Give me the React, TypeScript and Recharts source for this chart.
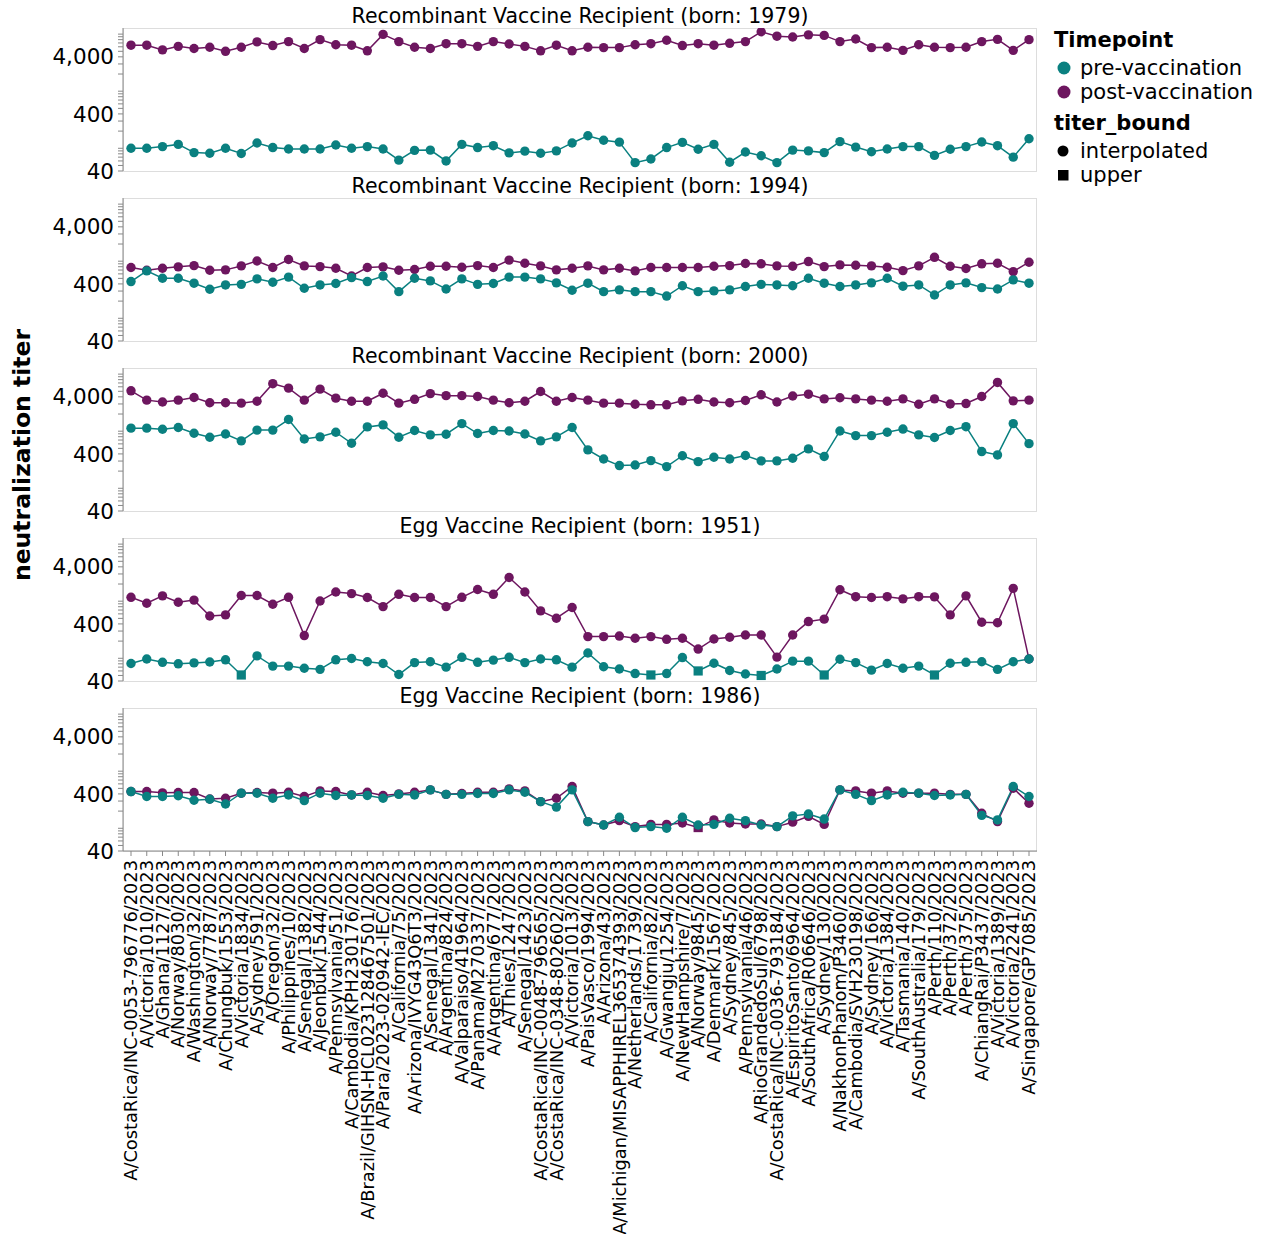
import React from 'react'
import { LineChart, Line, XAxis, YAxis } from 'recharts'

// ── Data ──────────────────────────────────────────────────────────────────────

const strains = [
  'A/CostaRica/INC-0053-796776/2023', 'A/Victoria/1010/2023', 'A/Ghana/1127/2023', 'A/Norway/8030/2023',
  'A/Washington/32/2023', 'A/Norway/7787/2023', 'A/Chungbuk/1553/2023', 'A/Victoria/1834/2023',
  'A/Sydney/591/2023', 'A/Oregon/32/2023', 'A/Philippines/10/2023', 'A/Senegal/1382/2023',
  'A/Jeonbuk/1544/2023', 'A/Pennsylvania/51/2023', 'A/Cambodia/KPH230176/2023',
  'A/Brazil/GIHSN-HCL023128467501/2023', 'A/Para/2023-020942-IEC/2023', 'A/California/75/2023',
  'A/Arizona/IVYG43Q6T3/2023', 'A/Senegal/1341/2023', 'A/Argentina/824/2023', 'A/Valparaiso/41964/2023',
  'A/Panama/M270337/2023', 'A/Argentina/677/2023', 'A/Thies/1247/2023', 'A/Senegal/1423/2023',
  'A/CostaRica/INC-0048-796565/2023', 'A/CostaRica/INC-0348-802602/2023', 'A/Victoria/1013/2023',
  'A/PaisVasco/1994/2023', 'A/Arizona/43/2023', 'A/Michigan/MISAPPHIREL365374393/2023',
  'A/Netherlands/1739/2023', 'A/California/82/2023', 'A/Gwangju/1254/2023', 'A/NewHampshire/7/2023',
  'A/Norway/9845/2023', 'A/Denmark/1567/2023', 'A/Sydney/845/2023', 'A/Pennsylvania/46/2023',
  'A/RioGrandedoSul/6798/2023', 'A/CostaRica/INC-0036-793184/2023', 'A/EspiritoSanto/6964/2023',
  'A/SouthAfrica/R06646/2023', 'A/Sydney/130/2023', 'A/NakhonPhanom/P3460/2023',
  'A/Cambodia/SVH230198/2023', 'A/Sydney/166/2023', 'A/Victoria/1384/2023', 'A/Tasmania/140/2023',
  'A/SouthAustralia/179/2023', 'A/Perth/110/2023', 'A/Perth/372/2023', 'A/Perth/375/2023',
  'A/ChiangRai/P3437/2023', 'A/Victoria/1389/2023', 'A/Victoria/2241/2023', 'A/Singapore/GP7085/2023',
]

const pre1979 = [100, 100, 107, 117, 84, 82, 100, 81, 124, 103, 97, 97, 97, 114, 100, 107, 97, 62, 92, 93, 60, 117, 103, 111, 83, 89, 82, 90, 124, 166, 138, 128, 56, 65, 103, 127, 96, 117, 57, 86, 74, 56, 93, 90, 84, 131, 105, 87, 97, 107, 107, 75, 96, 107, 129, 111, 70, 147]
const post1979 = [6400, 6400, 5300, 6100, 5600, 5900, 5000, 5900, 7300, 6300, 7400, 5600, 8000, 6500, 6400, 5100, 9900, 7400, 5900, 5600, 6800, 6800, 6100, 7400, 6700, 6100, 5100, 6400, 5100, 5900, 5800, 5800, 6500, 6800, 7800, 6300, 6800, 6400, 6900, 7400, 11000, 9200, 8900, 9700, 9500, 7400, 8200, 5800, 5900, 5200, 6500, 5900, 5800, 5900, 7400, 8100, 5200, 8000]

const pre1994 = [440, 676, 503, 503, 412, 322, 384, 393, 490, 428, 527, 336, 384, 406, 515, 440, 550, 293, 503, 452, 326, 490, 393, 406, 527, 527, 490, 418, 310, 412, 293, 315, 293, 293, 245, 372, 293, 302, 315, 360, 393, 384, 372, 503, 412, 360, 384, 418, 503, 365, 384, 256, 384, 418, 345, 326, 470, 412]
const post1994 = [775, 695, 753, 797, 838, 695, 705, 827, 1010, 775, 1070, 827, 805, 753, 550, 775, 797, 695, 715, 815, 815, 785, 838, 775, 1045, 920, 827, 705, 753, 827, 705, 753, 676, 775, 775, 775, 775, 815, 838, 910, 900, 827, 815, 986, 805, 861, 850, 827, 785, 685, 827, 1170, 815, 745, 900, 920, 658, 960]

const pre2000 = [1130, 1130, 1080, 1160, 920, 785, 895, 676, 1045, 1045, 1600, 730, 797, 960, 615, 1190, 1290, 785, 1030, 861, 885, 1360, 910, 1030, 1010, 895, 676, 797, 1160, 470, 326, 250, 256, 305, 240, 372, 293, 350, 326, 376, 302, 302, 336, 490, 360, 1010, 838, 838, 960, 1090, 861, 775, 1030, 1200, 440, 384, 1360, 605]
const post2000 = [5100, 3500, 3250, 3500, 3900, 3150, 3150, 3100, 3350, 6800, 5680, 3500, 5450, 3790, 3350, 3350, 4630, 3100, 3620, 4560, 4200, 4200, 4050, 3500, 3150, 3350, 4960, 3350, 3900, 3500, 3100, 3100, 2960, 2900, 2900, 3400, 3620, 3250, 3150, 3450, 4340, 3250, 4130, 4450, 3680, 3850, 3680, 3500, 3350, 3680, 2960, 3680, 3000, 3050, 4050, 7150, 3400, 3500]

const pre1951 = [81, 97, 85, 80, 83, 86, 94, 51, 110, 73, 73, 67, 64, 94, 99, 87, 81, 52, 84, 87, 70, 104, 85, 93, 104, 84, 97, 94, 70, 124, 71, 65, 54, 51, 54, 103, 60, 82, 61, 53, 50, 65, 89, 89, 51, 96, 84, 62, 81, 67, 73, 51, 82, 85, 87, 64, 87, 97]
const post1951 = [1170, 920, 1240, 960, 1045, 550, 575, 1260, 1260, 885, 1170, 250, 1010, 1450, 1360, 1160, 805, 1320, 1160, 1160, 805, 1170, 1600, 1320, 2600, 1450, 676, 503, 775, 240, 240, 245, 224, 240, 215, 224, 145, 218, 234, 256, 256, 105, 256, 440, 485, 1590, 1200, 1160, 1200, 1100, 1200, 1190, 575, 1240, 428, 420, 1680, 97]

const pre1986 = [440, 360, 360, 372, 310, 322, 266, 412, 412, 336, 384, 305, 412, 376, 384, 376, 336, 393, 384, 470, 393, 393, 406, 406, 470, 428, 293, 235, 470, 131, 114, 156, 103, 107, 100, 156, 114, 117, 150, 136, 114, 107, 165, 178, 145, 470, 393, 305, 384, 428, 412, 376, 384, 393, 168, 140, 540, 360]
const post1986 = [440, 440, 418, 424, 424, 326, 336, 412, 424, 412, 428, 360, 452, 440, 384, 428, 376, 400, 428, 470, 393, 406, 428, 428, 490, 452, 293, 336, 540, 131, 114, 136, 107, 117, 117, 124, 103, 140, 124, 119, 119, 107, 128, 162, 117, 470, 452, 412, 452, 412, 412, 412, 393, 393, 183, 131, 503, 275]

// strains whose titer is an upper bound (drawn as squares)
const upperPre1951 = ['A/Victoria/1834/2023', 'A/California/82/2023', 'A/Norway/9845/2023', 'A/RioGrandedoSul/6798/2023', 'A/Sydney/130/2023', 'A/Perth/110/2023']
const upperPost1986 = ['A/Norway/9845/2023']

const yTicks = [40, 50, 60, 70, 80, 90, 100, 200, 300, 400, 500, 600, 700, 800, 900, 1000, 2000, 3000, 4000, 5000, 6000, 7000, 8000, 9000, 10000]

const PRE = '#0a8080'
const POST = '#6d165f'
const FONT = '"DejaVu Sans", Verdana, sans-serif'

// ── Layout ────────────────────────────────────────────────────────────────────

const PLOT_LEFT = 123
const PLOT_W = 914
const PLOT_TOP = 28
const PLOT_H = 143
const STEP = 170
const M_TOP = 12
const M_BOT = 16

const panels = [
  { title: 'Recombinant Vaccine Recipient (born: 1979)', pre: pre1979, post: post1979, upPre: [] as string[], upPost: [] as string[] },
  { title: 'Recombinant Vaccine Recipient (born: 1994)', pre: pre1994, post: post1994, upPre: [], upPost: [] },
  { title: 'Recombinant Vaccine Recipient (born: 2000)', pre: pre2000, post: post2000, upPre: [], upPost: [] },
  { title: 'Egg Vaccine Recipient (born: 1951)', pre: pre1951, post: post1951, upPre: upperPre1951, upPost: [] },
  { title: 'Egg Vaccine Recipient (born: 1986)', pre: pre1986, post: post1986, upPre: [], upPost: upperPost1986 },
]

const fmtY = (v: number) => (v === 40 ? '40' : v === 400 ? '400' : v === 4000 ? '4,000' : '')

function makeDot(color: string, upper: string[]) {
  return (props: any) => {
    const { cx, cy, index, payload } = props
    if (cx == null || cy == null) return <g key={`d-${index}`} />
    if (upper.includes(payload.strain)) {
      return <rect key={`d-${index}`} x={cx - 4.6} y={cy - 4.6} width={9.2} height={9.2} fill={color} />
    }
    return <circle key={`d-${index}`} cx={cx} cy={cy} r={4.7} fill={color} />
  }
}

function StrainTick(props: any) {
  const { x, y, payload } = props
  return (
    <text transform={`translate(${x},${y}) rotate(-90)`} textAnchor="end" dy="0.35em"
      fontSize={17.8} fill="#000" fontFamily={FONT}>
      {payload.value}
    </text>
  )
}

function Panel({ idx }: { idx: number }) {
  const p = panels[idx]
  const last = idx === panels.length - 1
  const data = strains.map((s, i) => ({ strain: s, pre: p.pre[i], post: p.post[i] }))
  const xH = last ? 385 : 0
  const bottom = last ? 0 : M_BOT
  const height = M_TOP + PLOT_H + xH + bottom
  return (
    <div style={{ position: 'absolute', left: 0, top: PLOT_TOP + STEP * idx - M_TOP }}>
      <LineChart width={PLOT_LEFT + PLOT_W + 8} height={height} data={data}
        margin={{ top: M_TOP, right: 8, left: 0, bottom }}>
        <XAxis dataKey="strain" hide={!last} interval={0} padding={{ left: 8, right: 8 }}
          height={xH} tick={<StrainTick />} tickSize={5} tickMargin={4}
          stroke="#888" tickLine={{ stroke: '#888' }} />
        <YAxis scale="log" type="number" domain={[40, 12800]} allowDataOverflow ticks={yTicks}
          interval={0} width={PLOT_LEFT} tickFormatter={fmtY} tickSize={5} tickMargin={4}
          stroke="#888" tickLine={{ stroke: '#888' }}
          tick={{ fill: '#000', fontSize: 21.5, fontFamily: FONT }} />
        <Line dataKey="post" stroke={POST} strokeWidth={1.5} dot={makeDot(POST, p.upPost)}
          activeDot={false} isAnimationActive={false} />
        <Line dataKey="pre" stroke={PRE} strokeWidth={1.5} dot={makeDot(PRE, p.upPre)}
          activeDot={false} isAnimationActive={false} />
      </LineChart>
    </div>
  )
}

export default function App() {
  return (
    <div style={{ position: 'absolute', left: 0, top: 0, width: 1263, height: 1234, background: '#fff', fontFamily: FONT }}>
      <svg width={1263} height={1234} style={{ position: 'absolute', left: 0, top: 0 }}>
        {panels.map((p, i) => (
          <g key={p.title}>
            <rect x={PLOT_LEFT + 0.5} y={PLOT_TOP + STEP * i + 0.5} width={PLOT_W - 1} height={PLOT_H}
              fill="none" stroke="#ddd" />
            <text x={PLOT_LEFT + PLOT_W / 2} y={PLOT_TOP + STEP * i - 12} dy="0.35em" textAnchor="middle"
              fontSize={20.5} fill="#000">{p.title}</text>
          </g>
        ))}
        <text transform="translate(22,455) rotate(-90)" textAnchor="middle" dy="0.35em"
          fontSize={23.5} fontWeight="bold" fill="#000">neutralization titer</text>

        <text x={1054} y={40} dy="0.35em" fontSize={21} fontWeight="bold" fill="#000">Timepoint</text>
        <circle cx={1064} cy={68} r={6.5} fill={PRE} />
        <text x={1080} y={68} dy="0.35em" fontSize={21} fill="#000">pre-vaccination</text>
        <circle cx={1064} cy={92} r={6.5} fill={POST} />
        <text x={1080} y={92} dy="0.35em" fontSize={21} fill="#000">post-vaccination</text>
        <text x={1054} y={123} dy="0.35em" fontSize={21} fontWeight="bold" fill="#000">titer_bound</text>
        <circle cx={1063} cy={151} r={5.5} fill="#000" />
        <text x={1080} y={151} dy="0.35em" fontSize={21} fill="#000">interpolated</text>
        <rect x={1058} y={170} width={10.5} height={10.5} fill="#000" />
        <text x={1080} y={175} dy="0.35em" fontSize={21} fill="#000">upper</text>
      </svg>
      {panels.map((p, i) => <Panel key={p.title} idx={i} />)}
    </div>
  )
}
